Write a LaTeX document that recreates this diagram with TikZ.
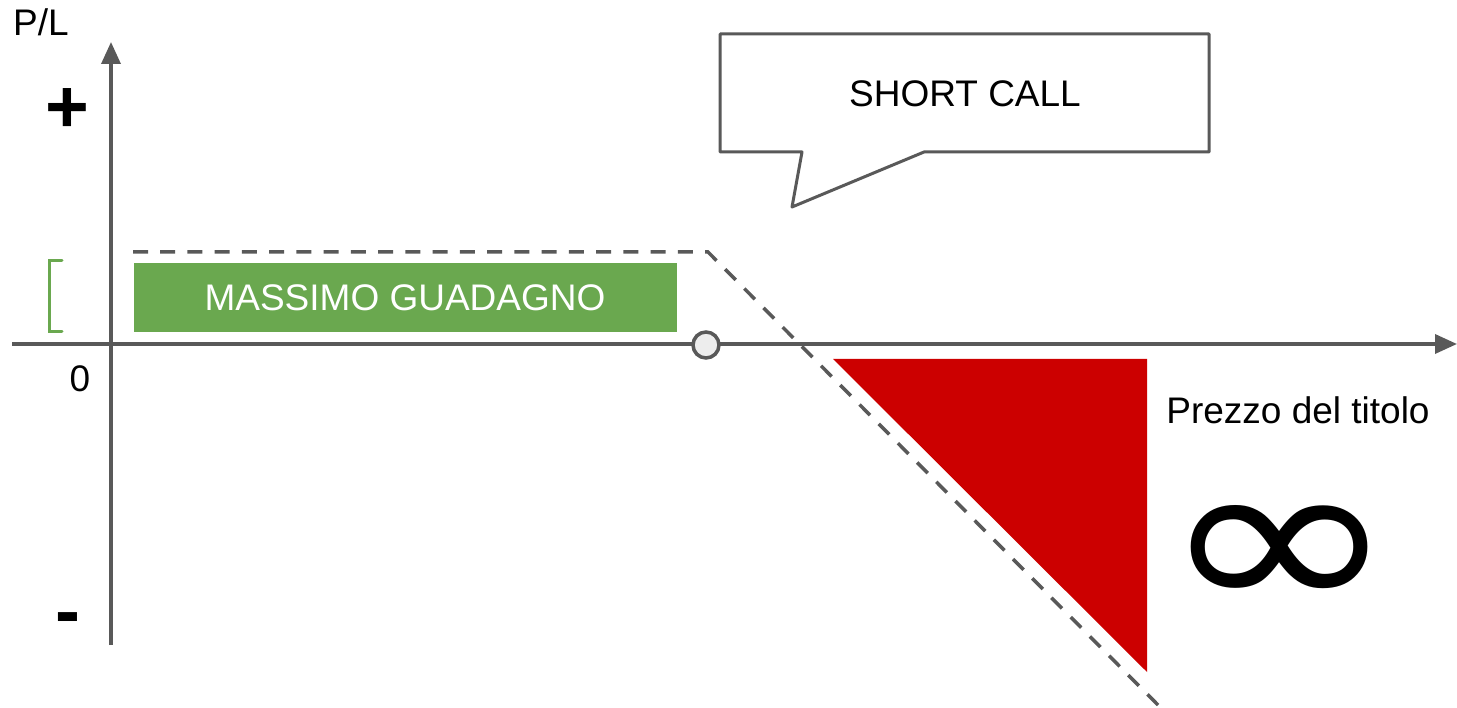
\documentclass[tikz,border=0pt]{standalone}
\usepackage{fontspec}
\usepackage{graphicx}
\setmainfont{Liberation Sans}
\newfontfamily\symfont{DejaVu Sans}
\usetikzlibrary{arrows.meta}
\definecolor{axisgray}{HTML}{595959}
\definecolor{gaingreen}{HTML}{6AA84F}
\definecolor{lossred}{HTML}{CC0000}
\def\txtsize{\fontsize{37}{44}\selectfont}
\def\signsize{\fontsize{75}{80}\selectfont\bfseries}
\tikzset{
  axis/.style={draw=axisgray,line width=3.5pt,-{Triangle[length=22pt,width=19pt]}},
  payoff/.style={draw=axisgray,line width=3.5pt,dash pattern=on 15pt off 12.24pt},
  lbl/.style={inner sep=0pt,font=\txtsize},
}
\begin{document}
\begin{tikzpicture}[x=1pt,y=-1pt]
  \useasboundingbox (0,0) rectangle (1457,708);
  % axes
  \coordinate (xstart) at (12,344);
  \coordinate (xend) at (1457,344);
  \coordinate (ystart) at (111,645);
  \coordinate (yend) at (111,42);
  \draw[axis] (xstart) -- (xend);
  \draw[axis] (ystart) -- (yend);
  \node[lbl] (pl) at (41,22) {P/L};
  \node[inner sep=0pt,font=\signsize] (plus) at (67,111) {+};
  \node[inner sep=0pt,font=\signsize] (minus) at (68,625) {-};
  \node[lbl] (zero) at (80,379) {0};
  \node[lbl] (price) at (1298,410) {Prezzo del titolo};
  % gain and loss
  \draw[gaingreen,line width=3pt,line cap=round] (62,261) -- (49,261) -- (49,332) -- (62,332);
  \fill[gaingreen] (134,263) rectangle (677,332);
  \node[lbl,white] (gain) at (405,298) {MASSIMO GUADAGNO};
  \fill[lossred] (833,359) -- (1147,359) -- (1147,672) -- cycle;
  \node[inner sep=0pt] (inf) at (1280,559) {\resizebox{238pt}{108pt}{\symfont ∞}};
  % short call payoff
  \coordinate (pstart) at (133,252);
  \coordinate (strike) at (708,252);
  \coordinate (pend) at (1158,705);
  \draw[payoff] (pstart) -- (strike) -- (pend);
  \draw[axisgray,line width=3.5pt,fill=black!7] (706,345) circle (13);
  % callout
  \draw[axisgray,line width=3pt,fill=white,line join=round]
    (720,34) -- (1209,34) -- (1209,152) -- (924,152) -- (792,207) -- (802,152) -- (720,152) -- cycle;
  \node[lbl] (call) at (965,94) {SHORT CALL};
\end{tikzpicture}
\end{document}
